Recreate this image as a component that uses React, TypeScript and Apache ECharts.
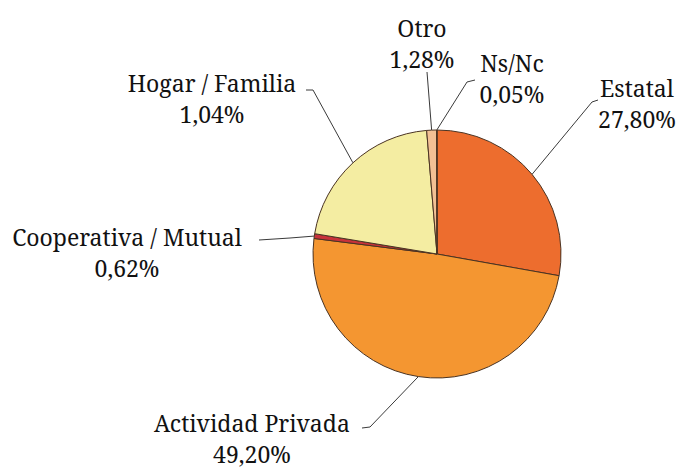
import React, { useEffect, useRef } from "react";
import * as echarts from "echarts";

const categories = ["Estatal", "Actividad Privada", "Cooperativa / Mutual", "Hogar / Familia", "Otro", "Ns/Nc"];
const values = [27.8, 49.2, 0.62, 21.05, 1.28, 0.05];
const labelTexts = ["27,80%", "49,20%", "0,62%", "1,04%", "1,28%", "0,05%"];
const colors = ["#ED6D2E", "#F49631", "#C8323A", "#F4EDA2", "#F2C094", "#EE9A5A"];

// label block centres and label line bend/end points (layout only)
const labelPos = [
  [637, 103],
  [252, 438],
  [127, 252],
  [212, 98],
  [422, 43],
  [512, 78],
];
const lineBends = [
  [[592, 102], [598, 100]],
  [[370, 427], [362, 428]],
  [[290, 238], [259, 240]],
  [[313, 90], [306, 90]],
  [[427, 72], [427, 72]],
  [[467, 82], [475, 80]],
];

export default function App() {
  const ref = useRef<HTMLDivElement>(null);
  useEffect(() => {
    if (!ref.current) return;
    const chart = echarts.init(ref.current, null, { renderer: "svg" });
    chart.setOption({
      animation: false,
      backgroundColor: "#ffffff",
      series: [
        {
          type: "pie",
          center: [437, 254],
          radius: 124,
          startAngle: 90,
          clockwise: true,
          avoidLabelOverlap: false,
          itemStyle: { borderColor: "#4a3322", borderWidth: 1 },
          emphasis: { disabled: true },
          label: {
            show: true,
            position: "outside",
            formatter: (p: any) => `${p.name}\n${labelTexts[p.dataIndex]}`,
            fontFamily: "'Noto Serif', 'Liberation Serif', serif",
            fontSize: 23,
            lineHeight: 31,
            color: "#111111",
            align: "center",
          },
          labelLine: {
            show: true,
            lineStyle: { color: "#3a3a3a", width: 1 },
          },
          labelLayout: (params: any) => {
            const i = params.dataIndex;
            const p0 = params.labelLinePoints ? params.labelLinePoints[0] : null;
            const out: any = {
              x: labelPos[i][0],
              y: labelPos[i][1],
              align: "center",
              verticalAlign: "middle",
            };
            if (p0) out.labelLinePoints = [p0, lineBends[i][0], lineBends[i][1]];
            return out;
          },
          data: categories.map((c, i) => ({
            name: c,
            value: values[i],
            itemStyle: { color: colors[i] },
          })),
        },
      ],
    });
    return () => chart.dispose();
  }, []);
  return (
    <div
      ref={ref}
      style={{ position: "fixed", left: 0, top: 0, width: 680, height: 468 }}
    />
  );
}
